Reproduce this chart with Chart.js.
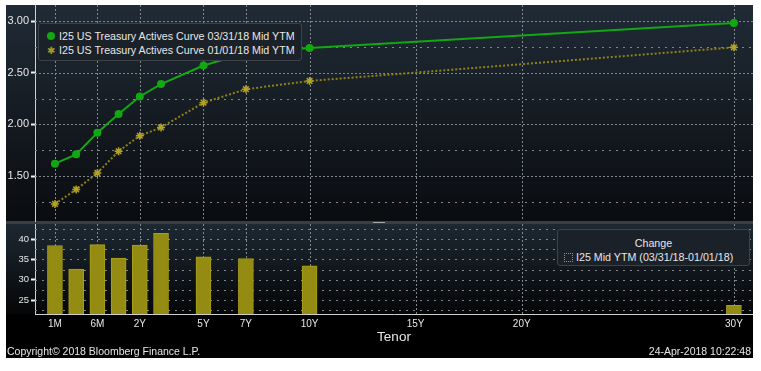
<!DOCTYPE html>
<html>
<head>
<meta charset="utf-8">
<script src="https://cdn.jsdelivr.net/npm/chart.js@4.4.1/dist/chart.umd.min.js"></script>
<style>
  body { margin: 0; background: #fff; width: 761px; height: 371px; overflow: hidden;
         font-family: 'Liberation Sans', Arial, sans-serif; color: #e6e6e6; }
  .abs { position: absolute; }
  #frame { left: 6px; top: 5px; width: 747px; height: 353px; background: #000; }
  #topBg { left: 6px; top: 5px; width: 747px; height: 216px; background: linear-gradient(#202b36, #0a0c0f); }
  #sep { left: 6px; top: 221px; width: 747px; height: 3px; background: #3a3f45; }
  #handle { left: 373px; top: 222px; width: 12px; height: 1px; background: #a0a5aa; }
  #botBg { left: 6px; top: 224px; width: 747px; height: 90px; background: linear-gradient(#1d2832, #050607); }
  /* top canvas is 10px bigger on each side: chart.js keeps room for point markers */
  #topWrap { left: -4px; top: -5px; width: 767px; height: 236px; }
  #botWrap { left: 6px; top: 224px; width: 747px; height: 134px; }
  .legend { background: #1b2128; border: 1px solid #3c4248; border-radius: 3px;
            font-size: 10.7px; line-height: 14px; box-sizing: border-box; white-space: nowrap; }
  #legTop { left: 38px; top: 23px; width: 264px; height: 38px; padding: 5px 0 0 7px; }
  #legBot { left: 557px; top: 229px; width: 193px; height: 37px; padding: 6px 0 0 6px; }
  .mk { display: inline-block; width: 10px; margin-right: 3px; text-align: center; }
  .dot { display: inline-block; width: 8px; height: 8px; border-radius: 50%; background: #12a812; }
  .star { color: #a89a22; font-size: 10px; }
  .sq { display: inline-block; width: 7px; height: 7px; border: 1px dotted #a89a22; vertical-align: -1px; }
  #copy { left: 7px; top: 345px; font-size: 10.5px; }
  #stamp { right: 10px; top: 345px; font-size: 10.5px; }
</style>
</head>
<body>
<div id="frame" class="abs"></div>
<div id="topBg" class="abs"></div>
<div id="sep" class="abs"></div>
<div id="handle" class="abs"></div>
<div id="botBg" class="abs"></div>
<div id="topWrap" class="abs"><canvas id="topChart"></canvas></div>
<div id="botWrap" class="abs"><canvas id="botChart"></canvas></div>
<div id="legTop" class="abs legend"></div>
<div id="legBot" class="abs legend"></div>
<div id="copy" class="abs">Copyright© 2018 Bloomberg Finance L.P.</div>
<div id="stamp" class="abs">24-Apr-2018 10:22:48</div>
<script>
// tenors and where they sit on the Bloomberg tenor axis (short end gets one slot each)
const tenors = ['1M', '3M', '6M', '1Y', '2Y', '3Y', '5Y', '7Y', '10Y', '30Y'];
const tenorPos = [-2, -1, 0, 1, 2, 3, 5, 7, 10, 30];
const curveMar = [1.62, 1.71, 1.92, 2.10, 2.27, 2.39, 2.57, 2.69, 2.74, 2.98];
const curveJan = [1.23, 1.37, 1.53, 1.74, 1.89, 1.97, 2.21, 2.34, 2.42, 2.745];
const changeBp = [38.4, 32.6, 38.6, 35.3, 38.5, 41.4, 35.6, 35.2, 33.4, 23.7];

const xTickPos = [-2, 0, 2, 5, 7, 10, 15, 20, 30];
const xTickLabels = ['1M', '6M', '2Y', '5Y', '7Y', '10Y', '15Y', '20Y', '30Y'];
const topTicks = [1.5, 2.0, 2.5, 3.0];
const topMinor = [1.25, 1.75, 2.25, 2.75];
const botTicks = [25, 30, 35, 40];
const botLines = [22.5, 25, 27.5, 30, 32.5, 35, 37.5, 40, 42.5];

const seriesNames = ['I25 US Treasury Actives Curve 03/31/18 Mid YTM', 'I25 US Treasury Actives Curve 01/01/18 Mid YTM'];
const changeTitle = 'Change';
const changeName = 'I25 Mid YTM (03/31/18-01/01/18)';

const FONT = "'Liberation Sans', Arial, sans-serif";
const TXT = '#e6e6e6';
const GRID = '#80868c';

// dotted grid like the terminal: dense on majors, sparse on minors
const gridLines = {
  id: 'gridLines',
  beforeDatasetsDraw(chart, args, opts) {
    const { ctx, chartArea: a, scales: { x, y } } = chart;
    ctx.save();
    ctx.lineWidth = 1;
    ctx.strokeStyle = GRID;
    opts.h.forEach(l => {
      const py = Math.round(y.getPixelForValue(l.v)) + 0.5;
      ctx.setLineDash(l.dash);
      ctx.beginPath(); ctx.moveTo(a.left, py); ctx.lineTo(a.right, py); ctx.stroke();
    });
    ctx.setLineDash([2, 2]);
    xTickPos.forEach(v => {
      const px = Math.round(x.getPixelForValue(v)) + 0.5;
      ctx.beginPath(); ctx.moveTo(px, a.top); ctx.lineTo(px, a.bottom); ctx.stroke();
    });
    ctx.restore();
  }
};

function fixY(s) {
  s.width = 29;
  s.paddingTop = 0; s.paddingBottom = 0;
}

const xCommon = { type: 'linear', min: -2.94, max: 30.9, offset: false };

new Chart(document.getElementById('topChart'), {
  type: 'line',
  data: {
    datasets: [
      {
        label: seriesNames[0],
        data: tenorPos.map((p, i) => ({ x: p, y: curveMar[i] })),
        borderColor: '#12a812', backgroundColor: '#12a812', borderWidth: 2,
        pointRadius: 4, pointBackgroundColor: '#12a812', pointBorderWidth: 0, tension: 0
      },
      {
        label: seriesNames[1],
        data: tenorPos.map((p, i) => ({ x: p, y: curveJan[i] })),
        borderColor: '#8f8119', borderWidth: 2, borderDash: [2, 2],
        pointStyle: 'star', pointRadius: 4, pointBorderColor: '#b2a326', pointBorderWidth: 1.5, tension: 0
      }
    ]
  },
  options: {
    responsive: true,
    maintainAspectRatio: false,
    animation: false,
    layout: { padding: 10 },
    plugins: {
      legend: { display: false },
      tooltip: { enabled: false },
      gridLines: {
        h: topTicks.map(v => ({ v: v, dash: [2, 2] })).concat(topMinor.map(v => ({ v: v, dash: [2, 5] })))
      }
    },
    scales: {
      x: Object.assign({ display: false }, xCommon),
      y: {
        min: 1.065, max: 3.155,
        afterBuildTicks: s => { s.ticks = topTicks.map(v => ({ value: v })); },
        afterFit: fixY,
        grid: { drawOnChartArea: false, tickLength: 4, tickColor: '#f0f0f0', tickWidth: 2 },
        border: { color: '#d0d0d0', width: 1 },
        ticks: { color: TXT, padding: 2, font: { family: FONT, size: 11 }, callback: v => v.toFixed(2) }
      }
    }
  },
  plugins: [gridLines]
});

new Chart(document.getElementById('botChart'), {
  type: 'bar',
  data: {
    datasets: [{
      label: changeName,
      data: tenorPos.map((p, i) => ({ x: p, y: changeBp[i] })),
      backgroundColor: '#948b12', borderColor: '#aa9f1c', borderWidth: 1,
      barThickness: 15
    }]
  },
  options: {
    responsive: true,
    maintainAspectRatio: false,
    animation: false,
    layout: { padding: 0 },
    plugins: {
      legend: { display: false },
      tooltip: { enabled: false },
      gridLines: { h: botLines.map(v => ({ v: v, dash: [2, 5] })) }
    },
    scales: {
      x: Object.assign({
        afterBuildTicks: s => { s.ticks = xTickPos.map(v => ({ value: v })); },
        afterFit: s => { s.height = 44; s.paddingLeft = 0; s.paddingRight = 0; },
        grid: { drawOnChartArea: false, drawTicks: false, offset: false },
        border: { color: '#d0d0d0', width: 1 },
        ticks: { color: TXT, padding: 4, maxRotation: 0, autoSkip: false, font: { family: FONT, size: 10 },
                 callback: v => xTickLabels[xTickPos.indexOf(v)] },
        title: { display: true, text: 'Tenor', color: TXT, font: { family: FONT, size: 13.5 },
                 padding: { top: 0, bottom: 13 } }
      }, xCommon),
      y: {
        min: 21.56, max: 43.69,
        afterBuildTicks: s => { s.ticks = botTicks.map(v => ({ value: v })); },
        afterFit: fixY,
        grid: { drawOnChartArea: false, tickLength: 4, tickColor: '#f0f0f0', tickWidth: 2 },
        border: { color: '#d0d0d0', width: 1 },
        ticks: { color: TXT, padding: 2, font: { family: FONT, size: 9.5 } }
      }
    }
  },
  plugins: [gridLines]
});

// legends as html boxes sitting over the plot
document.getElementById('legTop').innerHTML =
  '<div><span class="mk"><span class="dot"></span></span>' + seriesNames[0] + '</div>' +
  '<div><span class="mk star">✱</span>' + seriesNames[1] + '</div>';
document.getElementById('legBot').innerHTML =
  '<div style="text-align:center;padding-right:6px">' + changeTitle + '</div>' +
  '<div><span class="sq"></span> ' + changeName + '</div>';
</script>
</body>
</html>
